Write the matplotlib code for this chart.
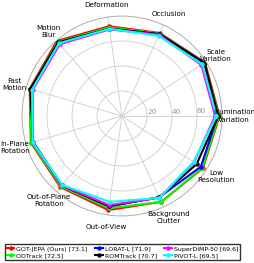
import numpy as np
import matplotlib
matplotlib.use("Agg")
import matplotlib.pyplot as plt

plt.rc("font", family="DejaVu Sans")

attrs = ["Illumination\nVariation", "Scale\nVariation", "Occlusion", "Deformation",
         "Motion\nBlur", "Fast\nMotion", "In-Plane\nRotation", "Out-of-Plane\nRotation",
         "Out-of-View", "Background\nClutter", "Low\nResolution"]

names = ["GOT-JEPA (Ours) [73.1]", "ODTrack [72.5]", "LORAT-L [71.9]",
         "ROMTrack [70.7]", "SuperDiMP-50 [69.6]", "PiVOT-L [69.5]"]
colors = ["red", "lime", "blue", "black", "magenta", "cyan"]

got_jepa = [78.0, 79.0, 73.0, 72.5, 79.5, 77.0, 76.0, 75.3, 76.0, 75.5, 77.0]
odtrack = [77.5, 78.5, 72.5, 71.5, 78.5, 76.5, 75.5, 74.5, 74.5, 75.5, 76.5]
lorat = [76.5, 78.0, 72.0, 70.5, 77.5, 75.5, 74.5, 73.5, 73.0, 71.5, 75.0]
romtrack = [77.0, 78.5, 72.0, 70.5, 78.0, 76.5, 74.0, 73.5, 72.8, 71.5, 71.0]
superdimp = [74.5, 75.5, 71.5, 70.0, 76.0, 74.4, 74.5, 73.5, 72.0, 72.0, 68.5]
pivot = [75.5, 76.5, 70.5, 70.5, 77.0, 75.0, 74.5, 73.0, 69.4, 72.0, 68.0]
series = [got_jepa, odtrack, lorat, romtrack, superdimp, pivot]

n = len(attrs)
theta = np.linspace(0, 2 * np.pi, n, endpoint=False)
theta_c = np.append(theta, theta[0])

fig = plt.figure(figsize=(2.54, 2.63), dpi=100)
ax = fig.add_axes([22 / 254, 47 / 263, 200 / 254, 200 / 263], projection="polar")

for vals, name, c in zip(series, names, colors):
    v = np.append(vals, vals[0])
    ax.plot(theta_c, v, color=c, lw=1.5, marker="o", ms=2.2, label=name)

ax.set_ylim(0, 80)
ax.set_rgrids([20, 40, 60, 80], labels=["20", "40", "60", ""], angle=1.5,
              fontsize=5.3, color="#999999")
ax.set_thetagrids(np.degrees(theta), labels=[""] * n)
ax.grid(color="#cccccc", lw=0.6)
ax.spines["polar"].set_color("#aaaaaa")
ax.spines["polar"].set_linewidth(0.6)

for t, lab in zip(theta, attrs):
    ax.text(t, 89.5, lab, ha="center", va="center", fontsize=5.1)

fig.legend(loc="lower left", bbox_to_anchor=(5 / 254, 3 / 263, 235 / 254, 17 / 263),
           ncol=3, fontsize=4.5, mode="expand", frameon=True, fancybox=False,
           edgecolor="black", handlelength=1.2, handletextpad=0.3,
           borderpad=0.3, labelspacing=0.2, columnspacing=0.5, borderaxespad=0)

fig.savefig("out.png", dpi=100)
